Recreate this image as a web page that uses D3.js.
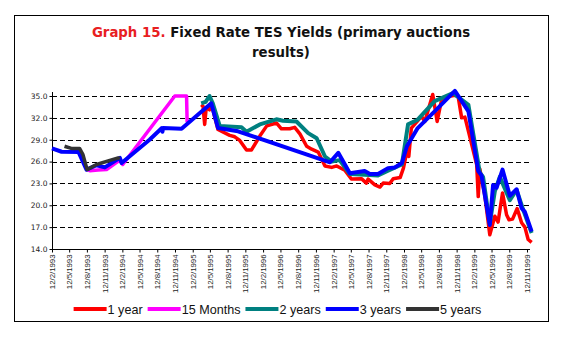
<!DOCTYPE html>
<html>
<head>
<meta charset="utf-8">
<script src="https://cdn.jsdelivr.net/npm/d3@7/dist/d3.min.js"></script>
<style>
  body { margin: 0; background: #fff; }
  svg { display: block; }
</style>
</head>
<body>
<div id="chart"></div>
<script>
const width = 566;
const height = 340;

// axis labels
const tickLabels = [
  '12/2/1993', '12/5/1993', '12/8/1993', '12/11/1993',
  '12/2/1994', '12/5/1994', '12/8/1994', '12/11/1994',
  '12/2/1995', '12/5/1995', '12/8/1995', '12/11/1995',
  '12/2/1996', '12/5/1996', '12/8/1996', '12/11/1996',
  '12/2/1997', '12/5/1997', '12/8/1997', '12/11/1997',
  '12/2/1998', '12/5/1998', '12/8/1998', '12/11/1998',
  '12/2/1999', '12/5/1999', '12/8/1999', '12/11/1999'
];
const yTicks = [14, 17, 20, 23, 26, 29, 32, 35];

const seriesNames = ['1 year', '15 Months', '2 years', '3 years', '5 years'];
const seriesColors = ['#ff0000', '#ff00ff', '#008080', '#0000ff', '#333333'];

// auction yields, [date, %]
const oneYear = [
  ['1995-03-28', 33.8], ['1995-04-06', 33.6], ['1995-04-15', 31.1], ['1995-04-23', 33.4],
  ['1995-05-10', 33.1], ['1995-05-19', 34.0], ['1995-06-23', 30.4], ['1995-08-23', 29.6],
  ['1995-09-18', 29.4], ['1995-10-14', 28.9], ['1995-11-18', 27.6], ['1995-12-14', 27.6],
  ['1996-01-26', 29.5], ['1996-03-02', 30.9], ['1996-04-21', 31.3], ['1996-05-17', 30.5],
  ['1996-06-29', 30.5], ['1996-07-25', 30.7], ['1996-08-21', 29.8], ['1996-09-25', 28.1],
  ['1996-10-21', 27.7], ['1996-11-24', 27.3], ['1996-12-29', 25.4], ['1997-02-02', 25.2],
  ['1997-02-28', 25.4], ['1997-04-11', 24.8], ['1997-05-15', 23.6], ['1997-07-06', 23.65],
  ['1997-08-01', 23.05], ['1997-08-10', 23.6], ['1997-09-14', 22.8], ['1997-10-10', 22.5],
  ['1997-10-27', 23.05], ['1997-11-30', 23.0], ['1997-12-18', 23.65], ['1998-01-23', 23.8],
  ['1998-02-09', 25.1], ['1998-02-27', 27.4], ['1998-03-09', 26.7], ['1998-03-22', 30.6],
  ['1998-05-14', 32.2], ['1998-05-31', 31.5], ['1998-07-11', 35.2], ['1998-08-03', 31.5],
  ['1998-08-26', 34.5], ['1998-09-21', 34.9], ['1998-11-03', 35.1], ['1998-11-20', 34.9],
  ['1998-12-08', 32.0], ['1998-12-25', 32.1], ['1999-02-24', 25.6], ['1999-03-04', 21.2],
  ['1999-03-12', 25.0], ['1999-04-07', 21.4], ['1999-05-03', 15.95], ['1999-05-29', 18.5],
  ['1999-06-15', 17.7], ['1999-07-08', 21.7], ['1999-07-29', 18.7], ['1999-08-11', 18.0],
  ['1999-08-29', 18.1], ['1999-09-22', 19.55], ['1999-10-15', 17.6], ['1999-11-01', 17.0],
  ['1999-11-18', 15.3], ['1999-12-06', 14.9]
];
const fifteenMonths = [
  ['1993-08-05', 25.0], ['1993-08-27', 24.75], ['1993-10-09', 24.85], ['1993-11-22', 24.9],
  ['1994-01-30', 26.2], ['1994-02-14', 25.6], ['1994-11-11', 35.0], ['1995-01-11', 35.0],
  ['1995-01-14', 31.4]
];
const twoYears = [
  ['1995-03-28', 34.0], ['1995-04-20', 34.2], ['1995-05-10', 35.0], ['1995-05-27', 34.0],
  ['1995-07-02', 30.9], ['1995-10-23', 30.7], ['1995-11-18', 30.1], ['1996-01-26', 31.1],
  ['1996-04-21', 31.8], ['1996-05-25', 31.6], ['1996-08-03', 31.5], ['1996-10-03', 29.9],
  ['1996-11-16', 29.2], ['1996-12-29', 26.7], ['1997-02-02', 26.0], ['1997-03-15', 26.2],
  ['1997-05-07', 24.3], ['1997-07-23', 24.2], ['1997-09-30', 24.1], ['1997-11-21', 24.75],
  ['1998-02-01', 25.6], ['1998-03-05', 31.1], ['1998-04-24', 31.75], ['1998-07-21', 34.3],
  ['1998-10-24', 35.4], ['1999-01-12', 33.8], ['1999-03-12', 24.5], ['1999-03-29', 23.9],
  ['1999-05-03', 17.5], ['1999-05-29', 21.9], ['1999-06-24', 23.9], ['1999-08-15', 20.7],
  ['1999-09-19', 22.1], ['1999-10-23', 19.4], ['1999-12-06', 16.2]
];
const threeYears = [
  ['1993-02-12', 27.8], ['1993-04-03', 27.35], ['1993-06-30', 27.3], ['1993-08-10', 24.9],
  ['1993-10-01', 25.5], ['1993-11-13', 25.2], ['1994-01-30', 26.5], ['1994-02-08', 25.8],
  ['1994-07-03', 29.0], ['1994-09-05', 30.6], ['1994-09-08', 30.1], ['1994-09-11', 30.6],
  ['1994-12-16', 30.5], ['1995-05-19', 34.0], ['1995-06-23', 30.6], ['1995-10-05', 30.15],
  ['1997-01-24', 25.9], ['1997-03-08', 27.2], ['1997-05-07', 24.4], ['1997-07-23', 24.7],
  ['1997-08-19', 24.3], ['1997-09-30', 24.3], ['1997-11-21', 25.1], ['1997-12-27', 25.2],
  ['1998-02-01', 25.8], ['1998-02-27', 28.1], ['1998-04-24', 30.6], ['1998-07-21', 32.9],
  ['1998-11-03', 35.7], ['1999-01-12', 32.9], ['1999-03-04', 24.7], ['1999-03-21', 24.1],
  ['1999-05-03', 17.3], ['1999-05-20', 22.8], ['1999-06-07', 22.4], ['1999-07-08', 24.9],
  ['1999-08-15', 21.3], ['1999-09-19', 22.2], ['1999-10-15', 19.6], ['1999-11-01', 19.1],
  ['1999-12-06', 16.4]
];
const fiveYears = [
  ['1993-04-18', 28.1], ['1993-05-23', 27.8], ['1993-07-05', 27.8], ['1993-07-22', 27.0],
  ['1993-08-13', 24.9], ['1993-10-01', 25.6], ['1994-01-21', 26.5], ['1994-01-30', 26.4]
];

const series = [oneYear, fifteenMonths, twoYears, threeYears, fiveYears];
const strokeWidths = [3.5, 3.5, 4, 4, 3.5];

const parseLabel = d3.timeParse('%d/%m/%Y');
const parseIso = d3.timeParse('%Y-%m-%d');

const svg = d3.select('#chart').append('svg')
  .attr('width', width)
  .attr('height', height);

// frame
svg.append('rect')
  .attr('x', 14.5).attr('y', 15.5)
  .attr('width', 534).attr('height', 306)
  .attr('fill', 'none')
  .attr('stroke', '#000')
  .attr('stroke-width', 1);

// title
const titleFont = '"DejaVu Sans", Verdana, sans-serif';
const title = svg.append('text')
  .attr('x', 281)
  .attr('y', 37)
  .attr('text-anchor', 'middle')
  .style('font-family', titleFont)
  .style('font-weight', 'bold')
  .style('font-size', '13.3px');
title.append('tspan').attr('fill', '#e8201f').text('Graph 15.');
title.append('tspan').attr('fill', '#111').text(' Fixed Rate TES Yields (primary auctions');
svg.append('text')
  .attr('x', 281)
  .attr('y', 57)
  .attr('text-anchor', 'middle')
  .attr('fill', '#111')
  .style('font-family', titleFont)
  .style('font-weight', 'bold')
  .style('font-size', '13.3px')
  .text('results)');

const x = d3.scaleTime()
  .domain([parseLabel(tickLabels[0]), parseLabel(tickLabels[tickLabels.length - 1])])
  .range([52, 527]);
const y = d3.scaleLinear().domain([14, 35]).range([249, 96]);

// dashed grid
svg.append('g')
  .selectAll('line')
  .data(yTicks.slice(1))
  .join('line')
  .attr('x1', 52).attr('x2', 530)
  .attr('y1', d => Math.round(y(d)) + 0.5)
  .attr('y2', d => Math.round(y(d)) + 0.5)
  .attr('stroke', '#000')
  .attr('stroke-width', 1)
  .attr('stroke-dasharray', '5,3');

// y axis
const yAxis = svg.append('g')
  .attr('transform', 'translate(52.5,0)')
  .call(d3.axisLeft(y).tickValues(yTicks).tickFormat(d3.format('.1f')).tickSize(3).tickSizeOuter(0));
yAxis.select('.domain').attr('d', `M0,${y(35) - 4}V${y(14) + 0.5}`);
yAxis.selectAll('text')
  .attr('x', -5)
  .style('font-family', '"DejaVu Sans", Verdana, sans-serif')
  .style('font-size', '7.5px')
  .attr('fill', '#222');

// x axis
const xAxis = svg.append('g')
  .attr('transform', `translate(0,${Math.round(y(14)) + 0.5})`)
  .call(d3.axisBottom(x)
    .tickValues(tickLabels.map(parseLabel))
    .tickFormat(d3.timeFormat('%-d/%-m/%Y'))
    .tickSize(3)
    .tickSizeOuter(0));
xAxis.select('.domain').attr('d', 'M52,0H530');
xAxis.selectAll('text')
  .attr('transform', 'rotate(-90)')
  .attr('text-anchor', 'end')
  .attr('x', -5)
  .attr('y', 0)
  .attr('dy', '0.32em')
  .style('font-family', '"Liberation Sans", Arial, sans-serif')
  .style('font-size', '7.8px')
  .attr('fill', '#222');

// yield lines
const line = d3.line()
  .x(d => x(parseIso(d[0])))
  .y(d => y(d[1]));

svg.append('g')
  .selectAll('path')
  .data(series)
  .join('path')
  .attr('d', line)
  .attr('fill', 'none')
  .attr('stroke', (d, i) => seriesColors[i])
  .attr('stroke-width', (d, i) => strokeWidths[i])
  .attr('stroke-linejoin', 'round');

// legend, centred under the plot
const legend = svg.append('g');
const items = legend.selectAll('g')
  .data(seriesNames)
  .join('g');
items.append('line')
  .attr('x1', 0).attr('x2', 33)
  .attr('y1', 309).attr('y2', 309)
  .attr('stroke', (d, i) => seriesColors[i])
  .attr('stroke-width', 4);
items.append('text')
  .attr('x', 34)
  .attr('y', 313.5)
  .style('font-family', '"Liberation Sans", Arial, sans-serif')
  .style('font-size', '12.6px')
  .attr('fill', '#111')
  .text(d => d);

let offset = 0;
items.each(function () {
  const w = 34 + d3.select(this).select('text').node().getComputedTextLength();
  d3.select(this).attr('transform', `translate(${offset},0)`);
  offset += w + 5;
});
legend.attr('transform', `translate(${277.5 - (offset - 5) / 2},0)`);
</script>
</body>
</html>
